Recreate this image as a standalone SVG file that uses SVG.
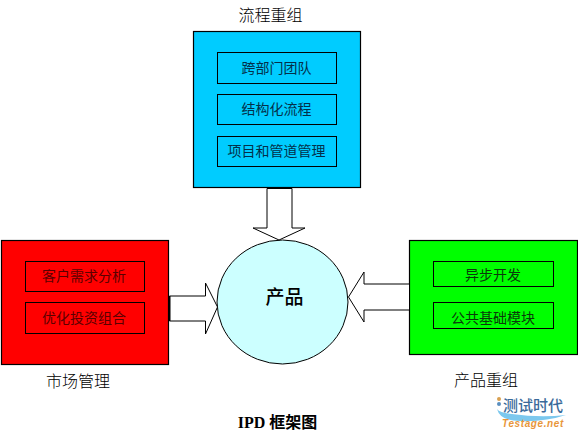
<svg xmlns="http://www.w3.org/2000/svg" width="578" height="438" viewBox="0 0 578 438">
<style>
text{font-family:"Noto Sans CJK SC","Liberation Sans",sans-serif;text-anchor:middle;fill:#000}
.in{fill:none;stroke:#000;stroke-width:1}
.box{stroke:#000;stroke-width:1.2}
.dr{font-size:14px;font-weight:400;fill:#5a0000}
.dg{font-size:14px;font-weight:400;fill:#0a3a0a}
.db{font-size:14px;font-weight:400;fill:#04304a}
.l{font-size:16px;font-weight:300}
.a{fill:#fff;stroke:#000;stroke-width:1}
</style>
<rect width="578" height="438" fill="#fff"/>
<g id="process">
<rect class="box" x="193.500" y="31.500" width="167" height="156" fill="#00ccff"/>
<rect class="in" x="217.500" y="52.500" width="119" height="31"/>
<rect class="in" x="217.500" y="94.500" width="119" height="30"/>
<rect class="in" x="217.500" y="136.500" width="119" height="30"/>
<text class="db" x="276.500" y="73">跨部门团队</text>
<text class="db" x="276.500" y="114">结构化流程</text>
<text class="db" x="276.500" y="156">项目和管道管理</text>
<text class="l" x="270.500" y="21">流程重组</text>
</g>
<g id="product">
<ellipse cx="282.500" cy="302" rx="65.500" ry="62" fill="#ccffff" stroke="#000" stroke-width="1"/>
<text x="284.500" y="304" font-size="19" font-weight="500">产品</text>
</g>
<g id="market">
<rect class="box" x="1.500" y="240.500" width="167" height="124" fill="#ff0000"/>
<rect class="in" x="25.500" y="261.500" width="119" height="30"/>
<rect class="in" x="25.500" y="302.500" width="119" height="31"/>
<text class="dr" x="84" y="281">客户需求分析</text>
<text class="dr" x="84" y="323">优化投资组合</text>
<text class="l" x="78" y="387">市场管理</text>
</g>
<g id="platform">
<rect class="box" x="409.500" y="240.500" width="168" height="114" fill="#00ff00"/>
<rect class="in" x="433.500" y="261.500" width="120" height="25"/>
<rect class="in" x="433.500" y="302.500" width="120" height="26"/>
<text class="dg" x="493" y="280">异步开发</text>
<text class="dg" x="493" y="323">公共基础模块</text>
<text class="l" x="486" y="386">产品重组</text>
</g>
<g id="connectors">
<path class="a" d="M267 188.500H292V228H305L279 240L253 228H267Z"/>
<path d="M267 188H292" stroke="#000" stroke-width="2"/>
<path class="a" d="M169.500 296H205.500V283L217.500 307L205.500 334V321H169.500Z"/>
<path d="M169.500 296V321" stroke="#000" stroke-width="2"/>
<path class="a" d="M409.500 284H364V272L348.500 297L364 322V310H409.500Z"/>
</g>
<text x="277.500" y="428" font-size="16" font-weight="700" style="font-family:'Liberation Serif','Noto Sans CJK SC',serif">IPD 框架图</text>
<g id="watermark">
<path d="M497 409Q500 413 512 414Q540 418 566 415Q545 422 520 421Q500 421 497 409Z" fill="#7cc8ee"/>
<circle cx="499" cy="399" r="2" fill="#d9a050"/>
<circle cx="499" cy="404" r="2" fill="#5a8fc0"/>
<text x="533" y="411" font-size="15" font-weight="500" style="fill:#3a6a9a">测试时代</text>
<text x="533" y="427" font-size="10" font-weight="700" font-style="italic" style="fill:#e8963a;font-family:'Liberation Sans',sans-serif;letter-spacing:.6px">Testage.net</text>
</g>
</svg>
